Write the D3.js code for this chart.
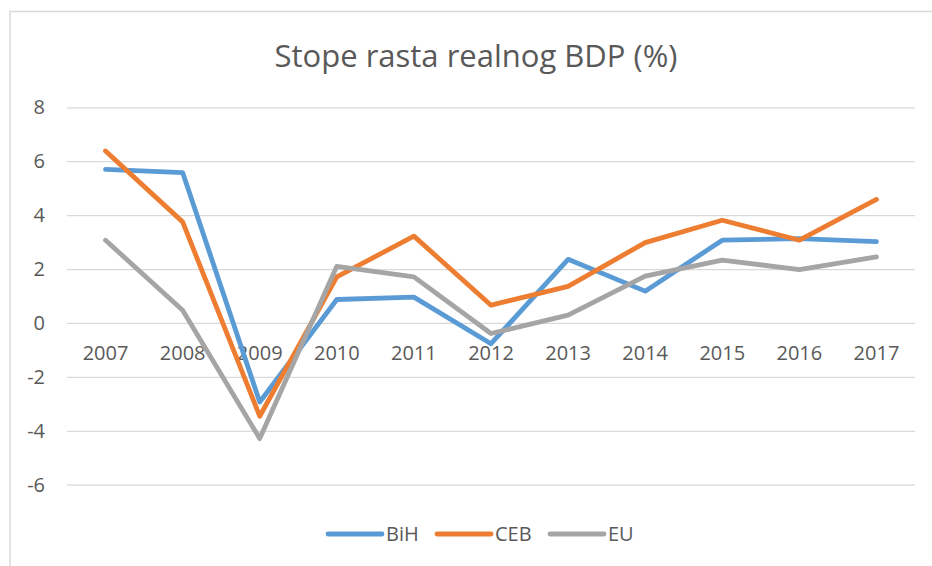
<!DOCTYPE html>
<html>
<head>
<meta charset="utf-8">
<script src="https://cdn.jsdelivr.net/npm/d3@7/dist/d3.min.js"></script>
<style>
  html, body { margin: 0; padding: 0; background: #fff; }
  svg { display: block; font-family: "Open Sans", sans-serif; }
</style>
</head>
<body>
<svg id="chart" width="932" height="566"></svg>
<script>
const years = ["2007", "2008", "2009", "2010", "2011", "2012", "2013", "2014", "2015", "2016", "2017"];
const bih = [5.7, 5.58, -2.93, 0.87, 0.96, -0.77, 2.36, 1.18, 3.07, 3.13, 3.02];
const ceb = [6.38, 3.75, -3.46, 1.71, 3.22, 0.66, 1.36, 2.98, 3.81, 3.07, 4.58];
const eu = [3.07, 0.47, -4.29, 2.1, 1.71, -0.39, 0.29, 1.74, 2.33, 1.98, 2.45];
const yTicks = [-6, -4, -2, 0, 2, 4, 6, 8];

const seriesList = [
  { name: "BiH", values: bih, color: "#5b9bd5" },
  { name: "CEB", values: ceb, color: "#ed7d31" },
  { name: "EU", values: eu, color: "#a5a5a5" },
];

const svg = d3.select("#chart");
const textColor = "#595959";
const gridColor = "#d9d9d9";
const fontFamily = "'Open Sans', sans-serif";

// chart frame (only top/left edges fall inside the window)
svg.append("rect")
  .attr("x", 10).attr("y", 11.5)
  .attr("width", 940).attr("height", 580)
  .attr("fill", "none")
  .attr("stroke", gridColor)
  .attr("stroke-width", 1.5);

const plot = { left: 67, right: 915, top: 107.3, bottom: 484.7 };

const x = d3.scaleBand().domain(years).range([plot.left, plot.right]);
const y = d3.scaleLinear().domain([-6, 8]).range([plot.bottom, plot.top]);

// gridlines + y labels
const yAxis = svg.append("g")
  .attr("transform", `translate(${plot.left},0)`)
  .call(d3.axisLeft(y).tickValues(yTicks).tickSize(-(plot.right - plot.left)).tickPadding(22).tickFormat(d3.format("d")))
  .attr("font-family", fontFamily)
  .attr("font-size", 20);
yAxis.select(".domain").remove();
yAxis.selectAll(".tick line").attr("stroke", gridColor).attr("stroke-width", 1.3);
yAxis.selectAll(".tick text")
  .attr("fill", textColor)
  .text((d) => (d < 0 ? "-" + Math.abs(d) : d));

// category labels sit just under the zero line
const xAxis = svg.append("g")
  .attr("transform", `translate(0,${y(0)})`)
  .call(d3.axisBottom(x).tickSize(0).tickPadding(23))
  .attr("font-family", fontFamily)
  .attr("font-size", 20);
xAxis.select(".domain").remove();
xAxis.selectAll(".tick text").attr("fill", textColor);

const line = d3.line()
  .x((d, i) => x(years[i]) + x.bandwidth() / 2)
  .y((d) => y(d));

svg.append("g")
  .selectAll("path")
  .data(seriesList)
  .join("path")
  .attr("fill", "none")
  .attr("stroke", (d) => d.color)
  .attr("stroke-width", 4.8)
  .attr("stroke-linejoin", "round")
  .attr("stroke-linecap", "round")
  .attr("d", (d) => line(d.values));

// title
svg.append("text")
  .attr("x", 476)
  .attr("y", 67)
  .attr("text-anchor", "middle")
  .attr("fill", textColor)
  .style("font-size", "31px")
  .text("Stope rasta realnog BDP (%)");

// legend
const legendX = [328, 437, 550];
const legend = svg.append("g")
  .selectAll("g")
  .data(seriesList)
  .join("g")
  .attr("transform", (d, i) => `translate(${legendX[i]},534)`);
legend.append("line")
  .attr("x1", 0).attr("x2", 54)
  .attr("stroke", (d) => d.color)
  .attr("stroke-width", 4.8)
  .attr("stroke-linecap", "round");
legend.append("text")
  .attr("x", 58)
  .attr("dy", "0.35em")
  .attr("fill", textColor)
  .style("font-size", "20px")
  .text((d) => d.name);
</script>
</body>
</html>
